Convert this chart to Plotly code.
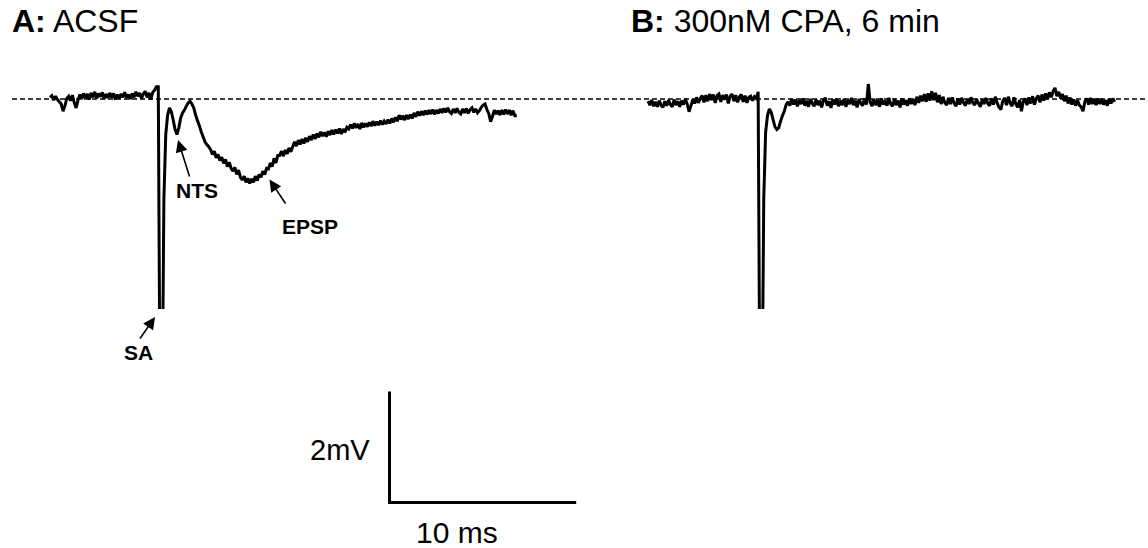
import numpy as np
import plotly.graph_objects as go

# ---------------- data (mV, sampled every DT_MS) ----------------
DT_MS = 0.1

# Panel A: ACSF
acsf_mv = [
    0.03, 0.06, -0.02, 0.05, -0.01, -0.05, -0.09, -0.22, -0.12, 0.01,
    0.05, -0.03, 0.07, -0.07, -0.16, -0.02, 0.08, 0.00, 0.10, 0.02,
    0.09, -0.01, 0.11, 0.03, 0.13, 0.01, 0.10, 0.04, 0.12, 0.00,
    0.09, 0.02, 0.11, 0.03, 0.10, -0.01, 0.08, 0.01, 0.09, 0.03,
    0.12, 0.02, 0.08, 0.00, 0.10, 0.03, 0.13, 0.05, 0.11, 0.01,
    0.09, 0.14, 0.03, 0.11, -0.01, 0.12, 0.16, 0.22,
    0.22, -6.0, -6.0,
    -1.80, -0.64, -0.29, -0.16, -0.23, -0.38, -0.55, -0.64, -0.52,
    -0.34, -0.25, -0.20, -0.13, -0.07, -0.04, -0.09, -0.16, -0.29, -0.39,
    -0.48, -0.59, -0.68, -0.77, -0.82, -0.86, -0.91, -1.00, -0.94, -1.06,
    -1.00, -1.11, -1.05, -1.16, -1.09, -1.22, -1.14, -1.25, -1.30, -1.23,
    -1.36, -1.28, -1.41, -1.46, -1.39, -1.50, -1.43, -1.52, -1.44, -1.50,
    -1.39, -1.47, -1.36, -1.41, -1.30, -1.36, -1.25, -1.26, -1.15, -1.22,
    -1.07, -1.15, -1.02,
    -1.02, -0.94, -1.03, -0.92, -0.99, -0.88, -0.95,
    -0.86, -0.77, -0.85, -0.74, -0.82, -0.72, -0.80, -0.70, -0.77, -0.67,
    -0.74, -0.64, -0.72, -0.62, -0.69, -0.59, -0.67, -0.60, -0.68, -0.58,
    -0.65, -0.56, -0.64, -0.55, -0.62, -0.53, -0.63, -0.54, -0.60, -0.51,
    -0.54, -0.46, -0.53, -0.44, -0.52, -0.45, -0.54, -0.43, -0.51, -0.44,
    -0.50, -0.42, -0.49, -0.40, -0.48, -0.41, -0.47, -0.39, -0.46, -0.40,
    -0.45, -0.37, -0.44, -0.35, -0.42, -0.33, -0.40, -0.29, -0.37, -0.30,
    -0.38, -0.29, -0.36, -0.28, -0.35, -0.25, -0.32, -0.23, -0.30, -0.22,
    -0.29, -0.21, -0.28, -0.20, -0.27, -0.19, -0.28, -0.20, -0.26, -0.18,
    -0.25, -0.17, -0.24, -0.16, -0.23, -0.26, -0.18, -0.25, -0.17, -0.24,
    -0.27, -0.18, -0.25, -0.17, -0.26, -0.19, -0.16, -0.24, -0.18, -0.25,
    -0.21, -0.15, -0.11, -0.09, -0.19, -0.26, -0.41, -0.31, -0.20, -0.27,
    -0.21, -0.29, -0.20, -0.28, -0.19, -0.27, -0.20, -0.29, -0.21, -0.30,
    -0.30,
]

# Panel B: 300nM CPA, 6 min
cpa_mv = [
    -0.04, -0.11, -0.02, -0.13, -0.05, -0.14, -0.03, -0.11, -0.15, -0.04,
    -0.12, -0.02, -0.10, -0.14, -0.01, -0.11, -0.04, -0.14, -0.03, -0.10,
    0.00, -0.09, -0.23, -0.12, -0.01, -0.08, 0.03, -0.07, 0.01, 0.06,
    -0.06, 0.07, -0.04, 0.09, -0.02, 0.08, -0.07, 0.06, 0.09, -0.05,
    0.07, -0.01, 0.08, -0.08, 0.05, 0.09, -0.04, 0.07, -0.06, 0.04,
    0.08, -0.05, 0.06, -0.07, 0.03, 0.05, -0.03, 0.04, 0.01,
    0.13,
    -6.0, -6.0, -1.80, -0.60, -0.30, -0.18, -0.24, -0.37, -0.50, -0.55,
    -0.52, -0.40, -0.30, -0.22, -0.10, -0.05,
    -0.12, 0.00, -0.10, -0.01,
    -0.13, -0.02, -0.09, 0.01, -0.12, -0.03, -0.14, 0.00, -0.08, -0.13,
    -0.01, -0.11, -0.03, -0.15, -0.02, 0.02, -0.12, -0.04, -0.16, -0.01,
    -0.10, 0.01, -0.13, -0.03, -0.11, 0.00, -0.14, -0.02, -0.09, 0.02,
    -0.11, -0.03, -0.15, 0.00, -0.08, -0.12, 0.01, -0.10, 0.27, -0.06,
    -0.13, 0.00, -0.11, -0.02, -0.14, 0.01, -0.10, -0.03, -0.12, 0.02,
    -0.09, -0.13, 0.00, -0.11, -0.03, -0.15, 0.01, -0.10, -0.02, -0.12,
    0.01, -0.09, 0.00, -0.11, 0.04, -0.07, 0.06, -0.04, 0.09, -0.05,
    0.10, -0.03, 0.14, -0.02, 0.11, -0.06, 0.07, -0.09, 0.04, -0.07,
    -0.11, 0.02, -0.09, 0.03, -0.08, -0.13, 0.01, -0.10, 0.02, -0.07,
    -0.12, -0.01, -0.09, 0.03, -0.07, -0.11, 0.00, -0.08, -0.14, -0.01,
    -0.09, 0.02, -0.08, -0.12, 0.01, -0.10, 0.04, -0.07, -0.15, -0.19,
    -0.04, 0.02, -0.11, 0.04, -0.08, -0.13, 0.03, -0.09, -0.15, -0.02,
    -0.22, -0.05, 0.01, -0.11, 0.03, -0.08, 0.05, -0.10, 0.01, 0.06,
    -0.06, 0.08, -0.03, 0.10, 0.00, 0.12, 0.03, 0.14, 0.20, 0.05,
    0.13, 0.01, 0.09, -0.04, 0.06, -0.08, 0.03, -0.10, -0.01, -0.12,
    -0.02, -0.11, -0.14, -0.22, -0.05, 0.01, -0.10, 0.02, -0.09, -0.01,
    -0.11, 0.01, -0.09, 0.00, -0.10, -0.02, -0.12, 0.00, -0.08, 0.01,
    -0.05,
]

panel_titles = ["<b>A:</b> ACSF", "<b>B:</b> 300nM CPA, 6 min"]
scale_ms = 10
scale_mv = 2
scale_labels = ["10 ms", "2mV"]
event_labels = ["SA", "NTS", "EPSP"]

# ---------------- layout constants (pixels) ----------------
W, H = 1148, 548
PX_PER_MS = 18.67
PX_PER_MV = 55.5
BASE_PX = 99          # pixel row of the 0 mV baseline
CLIP_PX = 309         # traces are clipped below this row
A_X0_PX = 50
B_X0_PX = 648
SCALE_X0_PX = 389.5
SCALE_Y0_PX = 502.5
FONT = "Liberation Sans, Arial, Helvetica, sans-serif"


def px(x):
    return x / W


def py(y):
    return 1 - y / H


t_a = np.arange(len(acsf_mv)) * DT_MS + A_X0_PX / PX_PER_MS
t_b = np.arange(len(cpa_mv)) * DT_MS + B_X0_PX / PX_PER_MS

fig = go.Figure()

trace_line = dict(color="black", width=3, simplify=False)
fig.add_trace(go.Scatter(x=t_a, y=acsf_mv, mode="lines", line=trace_line,
                         xaxis="x", yaxis="y", hoverinfo="skip"))
fig.add_trace(go.Scatter(x=t_b, y=cpa_mv, mode="lines", line=trace_line,
                         xaxis="x", yaxis="y", hoverinfo="skip"))

# scale bar
sx0 = SCALE_X0_PX / PX_PER_MS
sy0 = (BASE_PX - SCALE_Y0_PX) / PX_PER_MV
fig.add_trace(go.Scatter(x=[sx0, sx0, sx0 + scale_ms],
                         y=[sy0 + scale_mv, sy0, sy0],
                         mode="lines",
                         line=dict(color="black", width=3),
                         xaxis="x", yaxis="y2", hoverinfo="skip"))

# dashed baseline (0 mV)
fig.add_shape(type="line", xref="paper", yref="y", x0=px(12), x1=1,
              y0=0, y1=0, line=dict(color="black", width=1.4, dash="5px,3px"),
              layer="below")

ann = []
# panel titles
for txt, x in zip(panel_titles, [10, 629]):
    ann.append(dict(text=txt, x=px(x), y=py(21), xref="paper", yref="paper",
                    xanchor="left", yanchor="middle", showarrow=False,
                    font=dict(family=FONT, size=32, color="black")))
# scale labels
ann.append(dict(text=scale_labels[0], x=px(457), y=py(532), xref="paper", yref="paper",
                xanchor="center", yanchor="middle", showarrow=False,
                font=dict(family=FONT, size=30, color="black")))
ann.append(dict(text=scale_labels[1], x=px(372), y=py(450), xref="paper", yref="paper",
                xanchor="right", yanchor="middle", showarrow=False,
                font=dict(family=FONT, size=29, color="black")))
# event labels
for txt, (cx, cy) in zip(event_labels, [(138, 352), (197, 191), (309.5, 226)]):
    ann.append(dict(text="<b>%s</b>" % txt, x=px(cx), y=py(cy), xref="paper", yref="paper",
                    xanchor="center", yanchor="middle", showarrow=False,
                    font=dict(family=FONT, size=21, color="black")))
# arrows (head, tail)
for (hx, hy), (tx, ty) in [((155, 317), (139, 340)),
                           ((178, 140), (190, 178)),
                           ((269.5, 179.5), (286.5, 205))]:
    ann.append(dict(text="", x=px(hx), y=py(hy), xref="paper", yref="paper",
                    ax=tx - hx, ay=ty - hy, showarrow=True, arrowhead=2,
                    arrowsize=1.5, arrowwidth=1.6, arrowcolor="black",
                    standoff=0, startstandoff=0))

fig.update_layout(
    width=W, height=H,
    margin=dict(l=0, r=0, t=0, b=0),
    paper_bgcolor="white", plot_bgcolor="rgba(0,0,0,0)",
    showlegend=False,
    annotations=ann,
    xaxis=dict(domain=[0, 1], range=[0, W / PX_PER_MS], visible=False,
               fixedrange=True),
    yaxis=dict(domain=[1 - CLIP_PX / H, 1],
               range=[(BASE_PX - CLIP_PX) / PX_PER_MV, BASE_PX / PX_PER_MV],
               visible=False, fixedrange=True),
    yaxis2=dict(domain=[0, 1], anchor="x",
                range=[(BASE_PX - H) / PX_PER_MV, BASE_PX / PX_PER_MV],
                visible=False, fixedrange=True),
)

fig.write_html(
    "out.html",
    config={"displayModeBar": False},
    post_script="document.body.style.margin='0';document.body.style.overflow='hidden';",
)
